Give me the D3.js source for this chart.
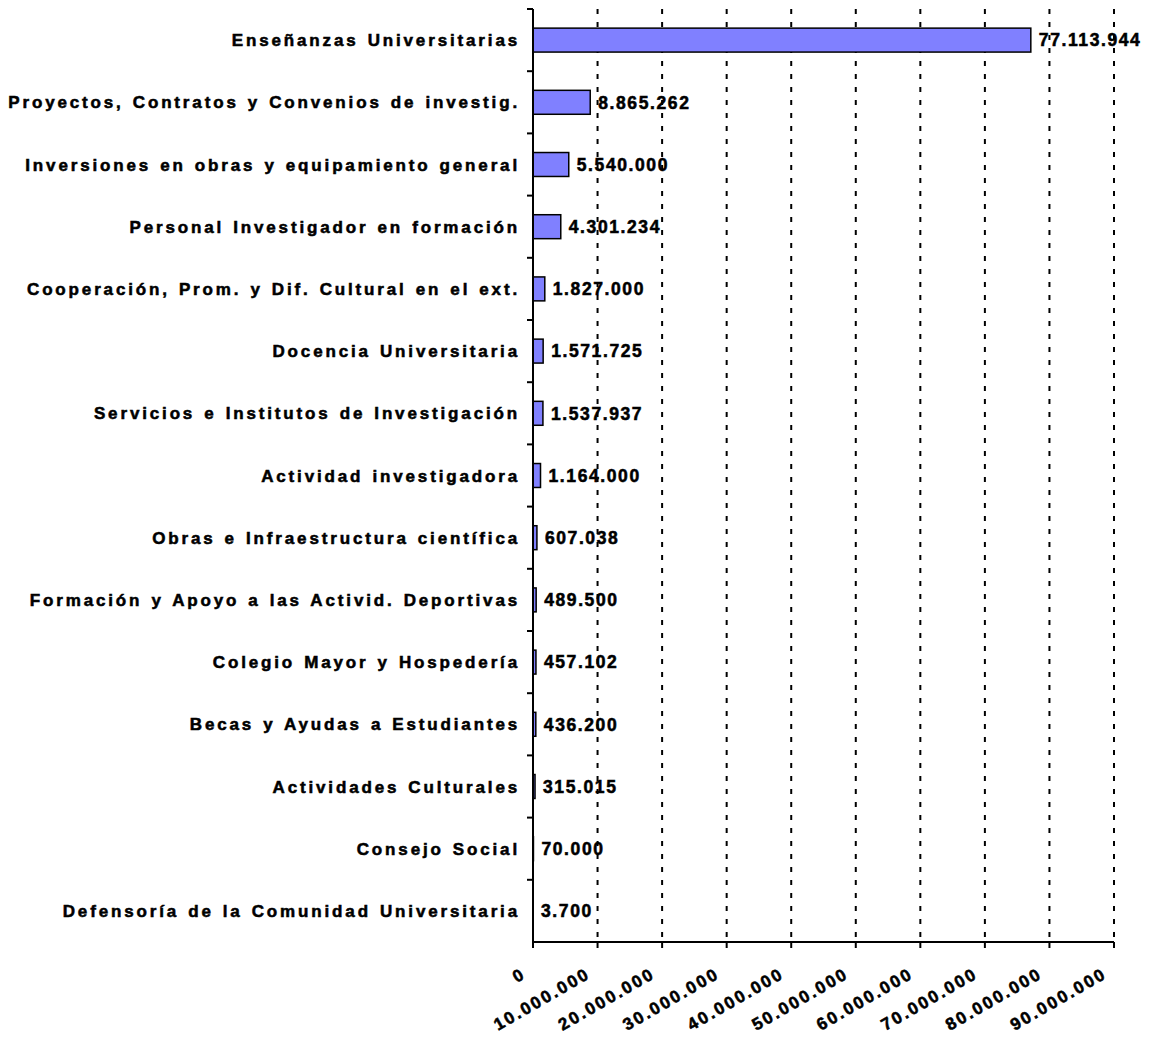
<!DOCTYPE html>
<html>
<head>
<meta charset="utf-8">
<script src="https://cdn.jsdelivr.net/npm/d3@7/dist/d3.min.js"></script>
<style>
  html, body { margin: 0; padding: 0; background: #fff; }
  svg { display: block; font-family: Arial, "Liberation Sans", sans-serif; }
</style>
</head>
<body>
<svg id="chart" width="1150" height="1040"></svg>
<script>
const categories = [
  "Enseñanzas Universitarias",
  "Proyectos, Contratos y Convenios de investig.",
  "Inversiones en obras y equipamiento general",
  "Personal Investigador en formación",
  "Cooperación, Prom. y Dif. Cultural en el ext.",
  "Docencia Universitaria",
  "Servicios e Institutos de Investigación",
  "Actividad investigadora",
  "Obras e Infraestructura científica",
  "Formación y Apoyo a las Activid. Deportivas",
  "Colegio Mayor y Hospedería",
  "Becas y Ayudas a Estudiantes",
  "Actividades Culturales",
  "Consejo Social",
  "Defensoría de la Comunidad Universitaria"
];
const values = [77113944, 8865262, 5540000, 4301234, 1827000, 1571725, 1537937, 1164000, 607038, 489500, 457102, 436200, 315015, 70000, 3700];
const tickValues = [0, 10000000, 20000000, 30000000, 40000000, 50000000, 60000000, 70000000, 80000000, 90000000];

(function () {
const svg = d3.select("#chart");
const pLeft = 533, pRight = 1114, pTop = 9, pBottom = 942;

const fmt = v => d3.format(",")(v).replace(/,/g, ".");

const x = d3.scaleLinear().domain([0, 90000000]).range([pLeft, pRight]);
const y = d3.scaleBand().domain(categories).range([pTop, pBottom]).paddingInner(0.615).paddingOuter(0.3075);
const band = d3.scaleBand().domain(categories).range([pTop, pBottom]).padding(0);

// gridlines
svg.append("g").selectAll("line").data(tickValues.slice(1)).join("line")
  .attr("x1", d => x(d)).attr("x2", d => x(d))
  .attr("y1", pTop).attr("y2", pBottom)
  .attr("stroke", "#000").attr("stroke-width", 2)
  .attr("stroke-dasharray", "5,8");

// bars
svg.append("g").selectAll("rect").data(values).join("rect")
  .attr("x", x(0))
  .attr("y", (d, i) => y(categories[i]))
  .attr("width", d => x(d) - x(0))
  .attr("height", y.bandwidth())
  .attr("fill", "#8080FF")
  .attr("stroke", "#000").attr("stroke-width", 1.5);

// value labels
svg.append("g").selectAll("text").data(values).join("text")
  .attr("x", d => x(d) + 8)
  .attr("y", (d, i) => band(categories[i]) + band.bandwidth() / 2)
  .attr("dy", "0.36em")
  .attr("font-size", 17.5).attr("font-weight", "bold")
  .attr("letter-spacing", 1.6)
  .attr("fill", "#000").attr("stroke", "#000").attr("stroke-width", 0.55)
  .text(d => fmt(d));

// category labels
svg.append("g").selectAll("text").data(categories).join("text")
  .attr("x", 520)
  .attr("y", d => band(d) + band.bandwidth() / 2)
  .attr("dy", "0.36em")
  .attr("text-anchor", "end")
  .attr("font-size", 17).attr("font-weight", "bold")
  .attr("letter-spacing", 2.85)
  .attr("word-spacing", 1.5)
  .attr("fill", "#000").attr("stroke", "#000").attr("stroke-width", 0.55)
  .text(d => d);

// y axis
const yAxis = svg.append("g");
yAxis.append("line").attr("x1", pLeft).attr("x2", pLeft).attr("y1", pTop).attr("y2", pBottom)
  .attr("stroke", "#000").attr("stroke-width", 2);
const boundaries = categories.map(c => band(c));
yAxis.selectAll("line.tk").data(boundaries).join("line").attr("class", "tk")
  .attr("x1", pLeft - 6).attr("x2", pLeft).attr("y1", d => d).attr("y2", d => d)
  .attr("stroke", "#000").attr("stroke-width", 2);

// x axis
const xAxis = svg.append("g");
xAxis.append("line").attr("x1", pLeft).attr("x2", pRight).attr("y1", pBottom).attr("y2", pBottom)
  .attr("stroke", "#000").attr("stroke-width", 2);
xAxis.selectAll("line.tk").data(tickValues).join("line").attr("class", "tk")
  .attr("x1", d => x(d)).attr("x2", d => x(d)).attr("y1", pBottom).attr("y2", pBottom + 6)
  .attr("stroke", "#000").attr("stroke-width", 2);
xAxis.selectAll("text").data(tickValues).join("text")
  .attr("transform", d => `translate(${x(d) - 6},${pBottom + 35}) rotate(-30)`)
  .attr("text-anchor", "end")
  .attr("font-size", 17).attr("font-weight", "bold")
  .attr("letter-spacing", 2.3)
  .attr("fill", "#000").attr("stroke", "#000").attr("stroke-width", 0.55)
  .text(d => fmt(d));
})();
</script>
</body>
</html>
